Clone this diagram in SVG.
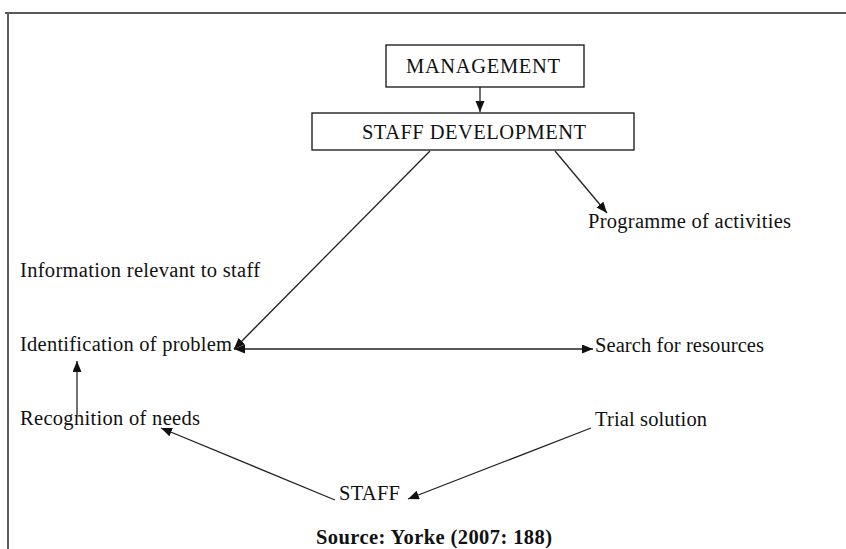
<svg xmlns="http://www.w3.org/2000/svg" width="846" height="549" viewBox="0 0 846 549">
<style>
  .t { font-family: "Liberation Serif", "Times New Roman", serif; font-size: 20.5px; fill: #111; }
  .box { fill: #fff; stroke: #111; stroke-width: 1.3; }
  .c { stroke: #222; stroke-width: 1.3; fill: none; }
  .b { font-weight: bold; }
</style>
<defs>
  <marker id="ah" markerUnits="userSpaceOnUse" markerWidth="12" markerHeight="10" refX="11" refY="4.5" orient="auto-start-reverse">
    <path d="M0,0 L11,4.5 L0,9 z" fill="#111"/>
  </marker>
</defs>
<rect width="846" height="549" fill="#fff"/>
<g id="frame">
  <path d="M5,13 H846 M8,13 V549" stroke="#5a5a5a" stroke-width="2" fill="none"/>
</g>
<g id="connectors">
  <line class="c" x1="480" y1="87" x2="480" y2="112" marker-end="url(#ah)"/>
  <line class="c" x1="555" y1="151" x2="607" y2="213" marker-end="url(#ah)"/>
  <line class="c" x1="430" y1="151" x2="234" y2="349" marker-end="url(#ah)"/>
  <line class="c" x1="234" y1="349" x2="593" y2="349" marker-start="url(#ah)" marker-end="url(#ah)"/>
  <line class="c" x1="77" y1="415" x2="77" y2="361" marker-end="url(#ah)"/>
  <line class="c" x1="591" y1="428" x2="408" y2="499" marker-end="url(#ah)"/>
  <line class="c" x1="335" y1="500" x2="161" y2="428" marker-end="url(#ah)"/>
</g>
<g id="management">
  <rect class="box" x="386" y="45" width="198" height="42"/>
  <text class="t" x="406" y="73" textLength="154">MANAGEMENT</text>
</g>
<g id="staff-development">
  <rect class="box" x="312" y="113" width="322" height="37"/>
  <text class="t" x="362" y="139" textLength="224">STAFF DEVELOPMENT</text>
</g>
<g id="programme">
  <text class="t" x="588" y="228" textLength="203">Programme  of activities</text>
</g>
<g id="information">
  <text class="t" x="20" y="277" textLength="240">Information relevant  to staff</text>
</g>
<g id="identification">
  <text class="t" x="20" y="351" textLength="212">Identification of problem</text>
</g>
<g id="search">
  <text class="t" x="595" y="352" textLength="169">Search  for resources</text>
</g>
<g id="recognition">
  <text class="t" x="20" y="425" textLength="180">Recognition of needs</text>
</g>
<g id="trial">
  <text class="t" x="595" y="426" textLength="112">Trial  solution</text>
</g>
<g id="staff">
  <text class="t" x="339" y="500" textLength="61">STAFF</text>
</g>
<g id="source">
  <text class="t b" x="316" y="544" textLength="236">Source: Yorke (2007: 188)</text>
</g>
</svg>
